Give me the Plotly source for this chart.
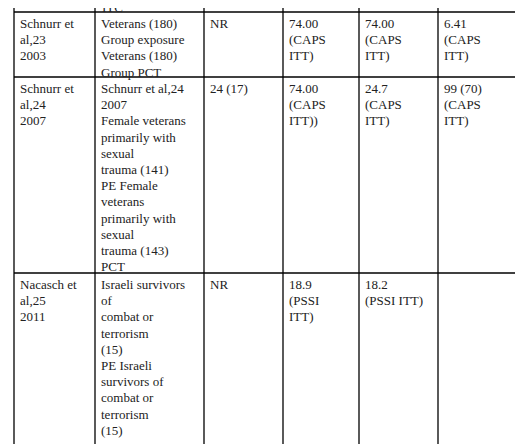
import plotly.graph_objects as go

row1 = [["Schnurr et", "al,23", "2003"],
        ["Veterans (180)", "Group exposure", "Veterans (180)", "Group PCT"],
        ["NR"],
        ["74.00", "(CAPS", "ITT)"],
        ["74.00", "(CAPS", "ITT)"],
        ["6.41", "(CAPS", "ITT)"]]
row2 = [["Schnurr et", "al,24", "2007"],
        ["Schnurr et al,24", "2007", "Female veterans", "primarily with", "sexual",
         "trauma (141)", "PE Female", "veterans", "primarily with", "sexual",
         "trauma (143)", "PCT"],
        ["24 (17)"],
        ["74.00", "(CAPS", "ITT))"],
        ["24.7", "(CAPS", "ITT)"],
        ["99 (70)", "(CAPS", "ITT)"]]
row3 = [["Nacasch et", "al,25", "2011"],
        ["Israeli survivors", "of", "combat or", "terrorism", "(15)", "PE Israeli",
         "survivors of", "combat or", "terrorism", "(15)"],
        ["NR"],
        ["18.9", "(PSSI", "ITT)"],
        ["18.2", "(PSSI ITT)"],
        []]
rows = [row1, row2, row3]

W, H = 523, 444
col_edges = [6, 87, 196, 275, 351, 430, 512]
row_edges = [4, 69, 265, 437]
LH = 16.2

def px(x):
    return x / W

def py(y):
    return 1 - y / H

shapes = []
for x in col_edges:
    shapes.append(dict(type="line", xref="paper", yref="paper", x0=px(x), x1=px(x),
                       y0=py(-5), y1=py(row_edges[-1]), layer="above",
                       line=dict(color="black", width=1.3)))
for y in row_edges:
    shapes.append(dict(type="line", xref="paper", yref="paper", x0=px(col_edges[0]),
                       x1=px(col_edges[-1]), y0=py(y), y1=py(y), layer="above",
                       line=dict(color="black", width=1.3)))
font = dict(family="Liberation Serif, Times New Roman, serif", size=13, color="#222")
ann = [dict(xref="paper", yref="paper", x=px(col_edges[1] + 5), y=py(-10), text="ITC",
            showarrow=False, xanchor="left", yanchor="top", font=font)]
for r, row in enumerate(rows):
    for c, lines in enumerate(row):
        for i, t in enumerate(lines):
            ann.append(dict(xref="paper", yref="paper", x=px(col_edges[c] + 4),
                            y=py(row_edges[r] + 2 + i * LH), text=t,
                            showarrow=False, xanchor="left", yanchor="top", font=font))

fig = go.Figure()
fig.update_layout(width=W, height=H, margin=dict(l=0, r=0, t=0, b=0, autoexpand=False),
                  plot_bgcolor="white", paper_bgcolor="white", shapes=shapes,
                  annotations=ann,
                  xaxis=dict(visible=False), yaxis=dict(visible=False))
fig.write_html("out.html")
